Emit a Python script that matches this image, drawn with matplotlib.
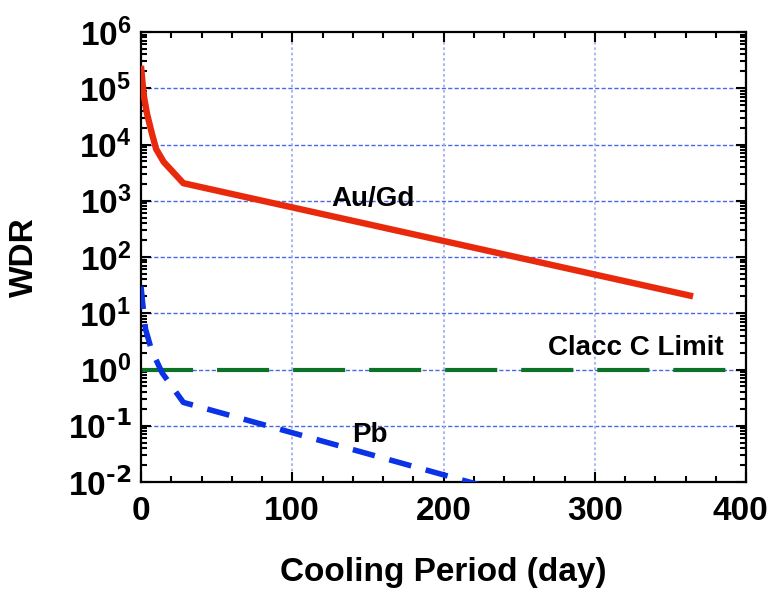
import matplotlib
matplotlib.use("Agg")
import matplotlib.pyplot as plt
import matplotlib.transforms as mtransforms
from matplotlib.ticker import LogLocator, FixedLocator, MultipleLocator, NullFormatter

plt.rcParams['font.family'] = ['Liberation Sans', 'DejaVu Sans']
plt.rcParams['font.weight'] = 'bold'
plt.rcParams['mathtext.default'] = 'regular'

# Data
au_days = [0, 1, 2, 4, 7, 10, 15, 28, 365]
au_wdr = [2.5e5, 1.26e5, 7.0e4, 3.5e4, 1.65e4, 8.3e3, 4.9e3, 2.05e3, 20]

pb_days = [0, 1, 3, 7, 14, 28, 365]
pb_wdr = [30, 16, 5.2, 2.2, 0.87, 0.26, 7.8e-4]

limit_days = [0, 400]
limit_wdr = [1, 1]

x_ticks = [0, 100, 200, 300, 400]
y_exponents = [-2, -1, 0, 1, 2, 3, 4, 5, 6]

fig = plt.figure(figsize=(7.71, 5.95), dpi=100)
ax = fig.add_axes([141/771, 1-482/595, (746-141)/771, (482-32)/595])

ax.set_yscale('log')
ax.set_xlim(0, 400)
ax.set_ylim(1e-2, 1e6)

# grid
for e in y_exponents[1:-1]:
    ax.axhline(10.0**e, color='#4a68e6', lw=1.0, ls=(0, (3, 1.6)), zorder=1)
for xv in x_ticks[1:-1]:
    ax.axvline(xv, color='#9aaaf2', lw=1.2, ls=(0, (1.6, 1.6)), zorder=1)

ax.plot(au_days, au_wdr, color='#E8290B', lw=4.6, solid_capstyle='butt', zorder=3)
ax.plot(pb_days, pb_wdr, color='#0A32E6', lw=4.0, dashes=(4.1, 2.7), dash_capstyle='butt', zorder=3)
ax.plot(limit_days, limit_wdr, color='#0B7228', lw=3.0, dashes=(12.5, 5.75), dash_capstyle='butt', zorder=2)

ax.text(153.4, 807, 'Au/Gd', fontsize=20, fontweight='bold', ha='center', va='baseline')
ax.text(151.4, 0.052, 'Pb', fontsize=20, fontweight='bold', ha='center', va='baseline')
ax.text(327, 1.81, 'Clacc C Limit', fontsize=20, fontweight='bold', ha='center', va='baseline')

def ylab(e):
    if e < 0:
        return r'$10^{\text{-%d}}$' % (-e)
    return r'$10^{%d}$' % e

ax.xaxis.set_major_locator(FixedLocator(x_ticks))
ax.xaxis.set_minor_locator(MultipleLocator(20))
ax.set_xticklabels([str(v) for v in x_ticks])
ax.yaxis.set_major_locator(FixedLocator([10.0**e for e in y_exponents]))
ax.yaxis.set_minor_locator(LogLocator(base=10, subs=range(2, 10), numticks=50))
ax.yaxis.set_minor_formatter(NullFormatter())
ax.set_yticklabels([ylab(e) for e in y_exponents])

ax.tick_params(which='both', direction='in', top=True, right=True, width=1.5, color='black')
ax.tick_params(which='major', length=7.5)
ax.tick_params(which='minor', length=4)
ax.tick_params(axis='x', which='major', pad=10, labelsize=24)
ax.tick_params(axis='y', which='major', pad=7, labelsize=24)
for lab in ax.get_xticklabels() + ax.get_yticklabels():
    lab.set_fontweight('bold')

# nudge the last x tick label left so it stays inside the figure
last = ax.get_xticklabels()[-1]
last.set_transform(last.get_transform() + mtransforms.ScaledTranslation(-6/100, 0, fig.dpi_scale_trans))

for s in ax.spines.values():
    s.set_linewidth(1.6)

fig.text(443.5/771, 1-572/595, 'Cooling Period (day)', fontsize=24, fontweight='bold', ha='center', va='center')
fig.text(24/771, 1-257/595, 'WDR', fontsize=24, fontweight='bold', rotation=90, ha='center', va='center')

fig.savefig('out.png', dpi=100)
